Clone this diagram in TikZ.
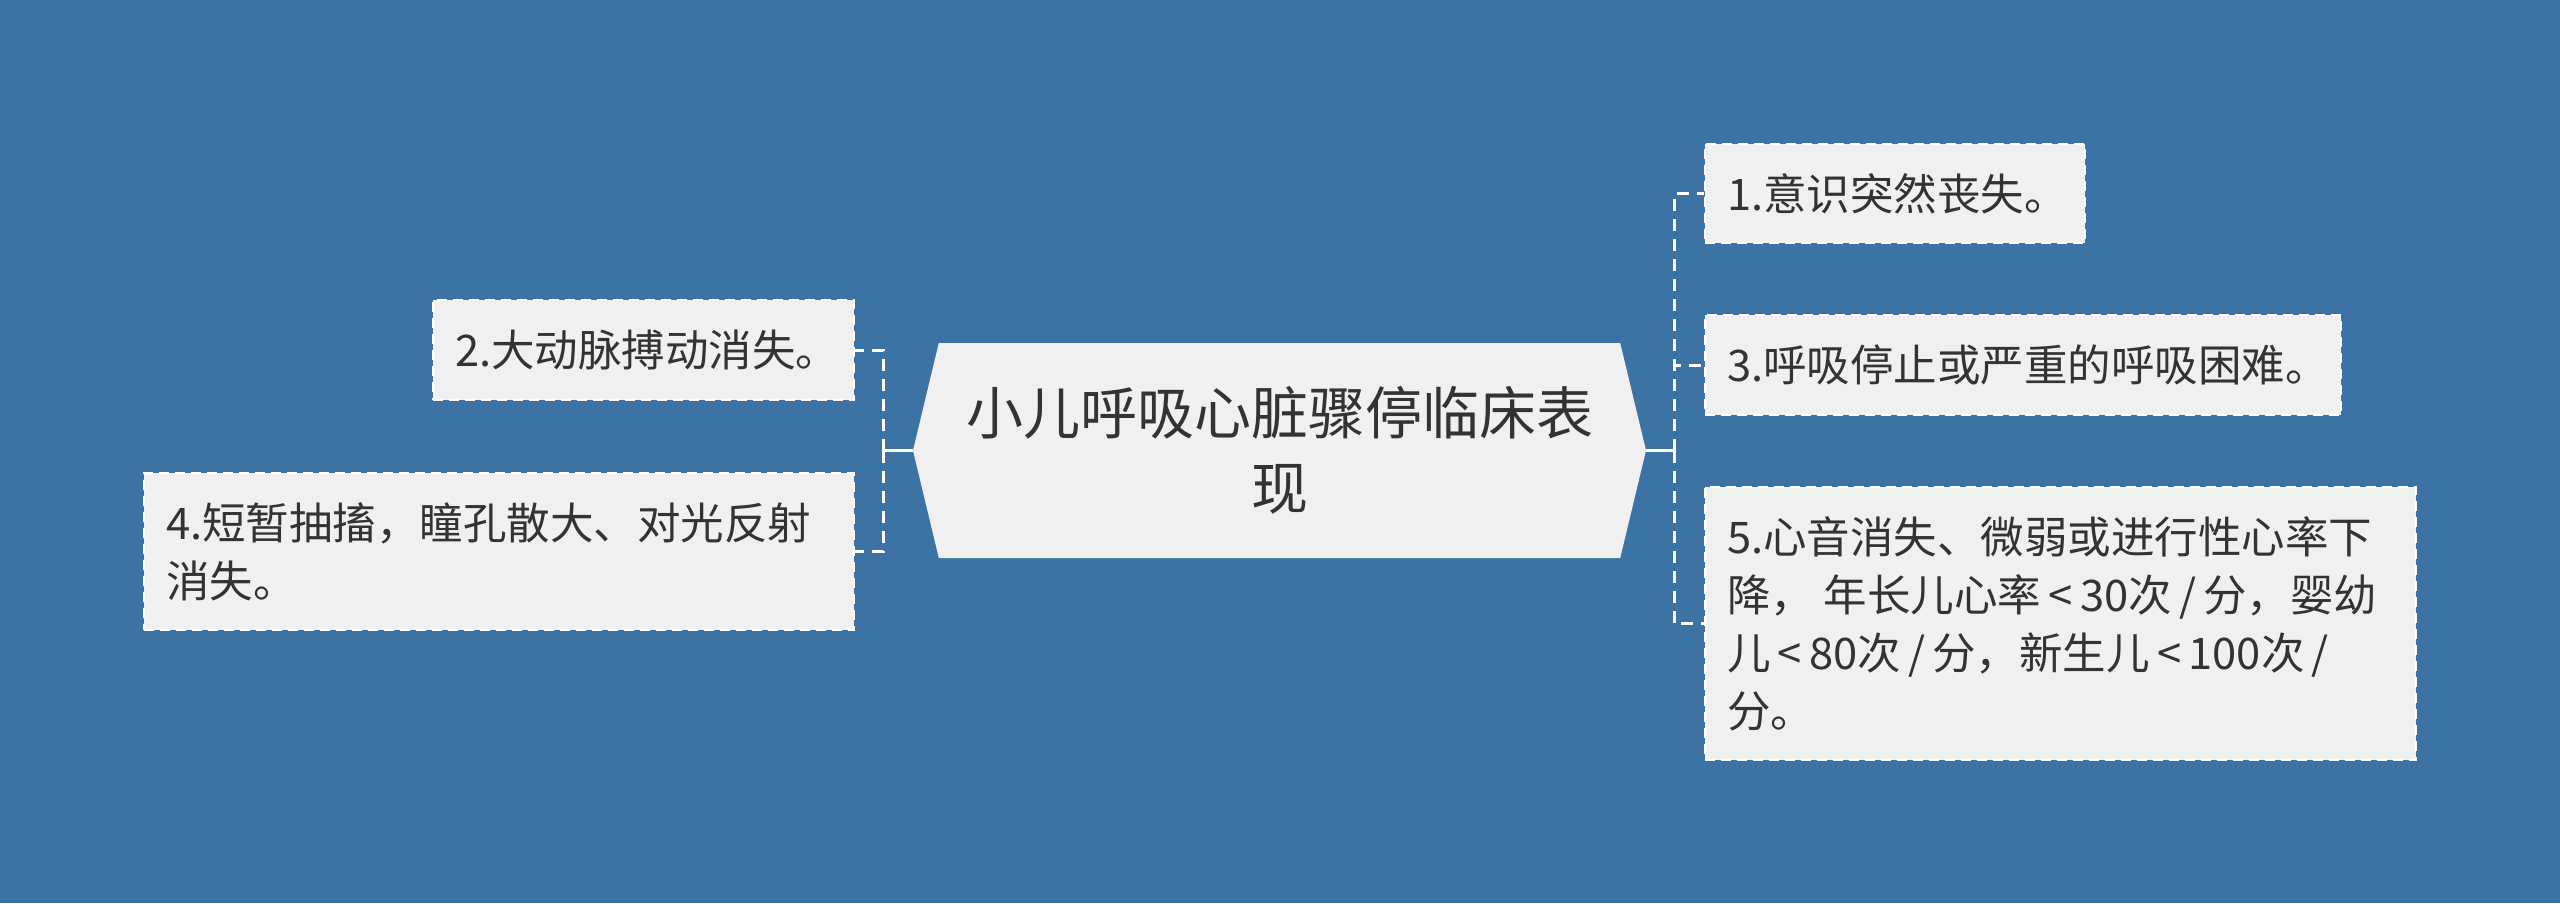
\documentclass[tikz,border=0pt]{standalone}
\usepackage{fontspec}
\setmainfont{Noto Sans CJK SC}
\usetikzlibrary{shapes.symbols}

\definecolor{mapblue}{HTML}{3D72A4}
\definecolor{boxgray}{HTML}{F0F0F0}
\definecolor{inkgray}{HTML}{333333}

\begin{document}
\begin{tikzpicture}[x=1pt, y=-1pt,
  topic/.style={shape=signal, signal to=east and west, signal pointer angle=153,
    fill=boxgray, minimum width=733pt, minimum height=215pt, inner sep=0pt,
    text=inkgray, align=center, font=\fontsize{57}{75}\selectfont},
  leaf/.style={shape=rectangle, fill=boxgray, draw=white, line width=2pt,
    dash pattern=on 10pt off 6pt, inner xsep=22pt, inner ysep=0pt,
    align=left, text=inkgray, font=\fontsize{43.5}{58}\selectfont},
  stem/.style={draw=white, line width=3pt},
  link/.style={draw=white, line width=3pt, dash pattern=on 12pt off 8pt}]
\fill[mapblue] (0,0) rectangle (2560,903);
% central topic
\node[topic] (root) at (1279.5,450.5) {小儿呼吸心脏骤停临床表\\现};
% right branches
\node[leaf, text width=336pt, minimum height=99pt] (s1) at (1895,193.5) {1.意识突然丧失。};
\node[leaf, text width=592pt, minimum height=100pt] (s3) at (2023,365) {3.呼吸停止或严重的呼吸困难。};
\node[leaf, text width=667pt, minimum height=273pt] (s5) at (2060.5,623.5)
  {5.心音消失、微弱或进行性心率下\\降，\hspace{10pt}年长儿心率\,<\,30次\,/\,分，婴幼\\儿\,<\,80次\,/\,分，新生儿\,<\,100次\,/\\分。};
% left branches
\node[leaf, text width=377pt, minimum height=100pt] (s2) at (643.5,350) {2.大动脉搏动消失。};
\node[leaf, text width=666pt, minimum height=157pt] (s4) at (499,551.5) {4.短暂抽搐，瞳孔散大、对光反射\\消失。};
\coordinate (rtrunk) at (1674,450.5);
\coordinate (ltrunk) at (883,450.5);
\draw[stem] (root.east) -- (rtrunk);
\draw[stem] (root.west) -- (ltrunk);
\draw[link] (rtrunk) |- (s1.west);
\draw[link] (rtrunk) |- (s3.west);
\draw[link] (rtrunk) |- (s5.west);
\draw[link] (ltrunk) |- (s2.east);
\draw[link] (ltrunk) |- (s4.east);
\end{tikzpicture}
\end{document}
